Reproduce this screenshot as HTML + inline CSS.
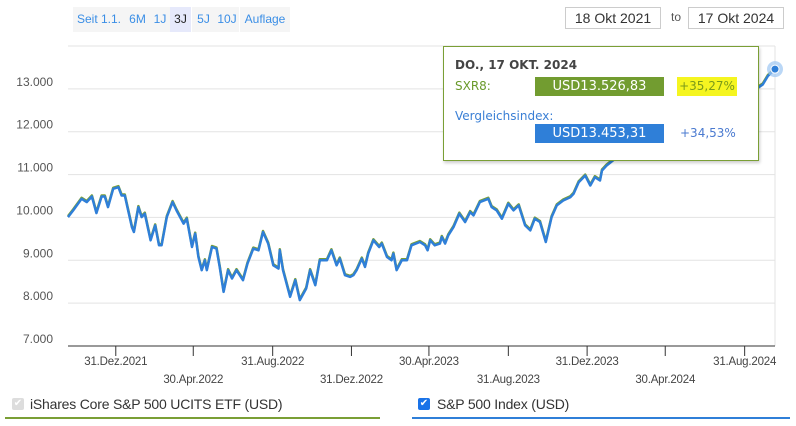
<!DOCTYPE html>
<html><head><meta charset="utf-8"><style>
body{margin:0;width:796px;height:426px;overflow:hidden;background:#fff;font-family:"Liberation Sans",sans-serif;position:relative}
.rb{position:absolute;top:7px;height:25px;line-height:25px;background:#f5f5f5;color:#3a8ee6;font-size:12px;text-align:center}
.rb.act{background:#e6e9fb;color:#222}
.date{position:absolute;top:7px;height:20px;border:1px solid #ccc;font-size:14px;line-height:20px;text-align:center;color:#333}
.tt{font-family:"DejaVu Sans","Liberation Sans",sans-serif}
</style></head><body>
<div class="rb" style="left:73px;width:52px">Seit 1.1.</div>
<div class="rb" style="left:125px;width:25px">6M</div>
<div class="rb" style="left:150px;width:20px">1J</div>
<div class="rb act" style="left:170px;width:21px">3J</div>
<div class="rb" style="left:192px;width:23px">5J</div>
<div class="rb" style="left:215px;width:24px">10J</div>
<div class="rb" style="left:240px;width:50px">Auflage</div>
<div class="date" style="left:565px;width:94px">18 Okt 2021</div>
<div style="position:absolute;left:671px;top:10px;font-size:12px;color:#555">to</div>
<div class="date" style="left:688px;width:94px">17 Okt 2024</div>

<svg id="chart" width="796" height="426" style="position:absolute;left:0;top:0"></svg>

<div class="tt" style="position:absolute;left:443px;top:46px;width:314px;height:113px;background:#fff;border:1px solid #7a9f35;box-shadow:1px 2px 3px rgba(0,0,0,.2);font-size:12px">
 <div style="position:absolute;left:11px;top:11px;font-weight:bold;color:#444">DO., 17 OKT. 2024</div>
 <div style="position:absolute;left:11px;top:32px;color:#6a9a2a">SXR8:</div>
 <div style="position:absolute;left:91px;top:30px;width:129px;height:19px;background:#729c30;color:#fff;font-size:13px;line-height:19px;text-align:center">USD13.526,83</div>
 <div style="position:absolute;left:233px;top:30px;width:60px;height:19px;background:#f5f520;color:#7a9a1a;font-size:12px;line-height:19px;text-align:center">+35,27%</div>
 <div style="position:absolute;left:11px;top:62px;color:#3a7fd5">Vergleichsindex:</div>
 <div style="position:absolute;left:91px;top:77px;width:129px;height:19px;background:#2f7fd8;color:#fff;font-size:13px;line-height:19px;text-align:center">USD13.453,31</div>
 <div style="position:absolute;left:236px;top:77px;color:#4a7ad0;line-height:19px">+34,53%</div>
</div>

<div style="position:absolute;left:12px;top:398px;width:12px;height:12px;background:#ddd;border-radius:2px;color:#fff;font-size:10px;line-height:12px;text-align:center">✔</div>
<div style="position:absolute;left:30px;top:396px;font-size:14px;color:#333;letter-spacing:-0.2px">iShares Core S&amp;P 500 UCITS ETF (USD)</div>
<div style="position:absolute;left:5px;top:417px;width:375px;height:2px;background:#7a9f35"></div>
<div style="position:absolute;left:418px;top:398px;width:12px;height:12px;background:#1a73e8;border-radius:2px;color:#fff;font-size:10px;line-height:12px;text-align:center">✔</div>
<div style="position:absolute;left:437px;top:396px;font-size:14px;color:#333;letter-spacing:-0.2px">S&amp;P 500 Index (USD)</div>
<div style="position:absolute;left:412px;top:417px;width:378px;height:2px;background:#2f7fd8"></div>

<script>
const days=[0,8,21,29,37,44,52,57,62,70,78,83,88,99,102,109,114,119,128,135,141,145,153,162,168,179,184,192,197,202,207,212,215,223,230,235,241,248,254,261,271,278,287,295,302,310,318,326,328,333,344,352,359,369,375,383,390,401,408,416,421,429,437,442,447,455,460,465,473,482,486,494,501,504,509,517,525,532,545,553,557,561,568,576,579,584,589,597,606,615,623,628,638,651,656,664,672,682,690,698,708,716,723,731,740,749,757,767,778,783,791,801,809,816,824,827,834,850,865,880,895,914,930,956,975,1002,1022,1035,1048,1054,1066,1076,1084,1095];
const values=[10008,10163,10435,10357,10489,10101,10489,10489,10240,10668,10706,10512,10512,9775,9659,10240,10008,10086,9466,9814,9349,9349,10008,10357,10163,9854,9970,9310,9621,9077,8768,9000,8768,9310,9272,8845,8263,8768,8574,8768,8535,8923,9272,9233,9659,9389,8884,8807,9233,8768,8147,8535,8070,8342,8768,8419,9000,9000,9233,8884,9039,8651,8612,8651,8768,9039,8845,9156,9466,9310,9389,9077,9000,9156,8768,9000,9000,9349,9426,9349,9233,9466,9349,9389,9543,9389,9582,9775,10086,9891,10124,10047,10357,10435,10240,10163,9970,10319,10163,10280,9814,9698,9970,9891,9426,10008,10280,10396,10473,10551,10822,10977,10745,10938,10861,11094,11210,11400,11600,11800,11950,11350,11700,12050,12400,12950,11900,12500,12950,12400,13000,13100,13300,13460];
const yTicks=[7000,8000,9000,10000,11000,12000,13000,14000];
const yTickLabels=["7.000","8.000","9.000","10.000","11.000","12.000","13.000",""];
const xTickDays=[74,194,317,439,559,682,804,925,1048];
const xTickLabels=["31.Dez.2021","30.Apr.2022","31.Aug.2022","31.Dez.2022","30.Apr.2023","31.Aug.2023","31.Dez.2023","30.Apr.2024","31.Aug.2024"];

const NS="http://www.w3.org/2000/svg";
const svg=document.getElementById('chart');
const X0=68,X1=775,Y0=346,YT=46;
const xs=d=>X0+d*(X1-X0)/1095;
const ys=v=>Y0-(v-7000)*(Y0-YT)/7000;
function mk(t,a){const e=document.createElementNS(NS,t);for(const k in a)e.setAttribute(k,a[k]);svg.appendChild(e);return e;}
yTicks.forEach((v,i)=>{
  const g=mk('line',{x1:X0,x2:X1,y1:ys(v),y2:ys(v),stroke:'#e3e3e3','stroke-width':1});
  
  
  if(yTickLabels[i]){const t=mk('text',{x:53,y:ys(v)-3,'text-anchor':'end','font-size':12,fill:'#555','font-family':'Liberation Sans'});t.textContent=yTickLabels[i];
  
  }
});
const vb=mk('line',{x1:X1,x2:X1,y1:YT,y2:Y0,stroke:'#e3e3e3'});


const ax=mk('line',{x1:X0,x2:X1,y1:Y0,y2:Y0,stroke:'#333','stroke-width':1});


xTickDays.forEach((d,i)=>{
  const tk=mk('line',{x1:xs(d),x2:xs(d),y1:Y0,y2:Y0+10,stroke:'#333'});
  
  
  const t=mk('text',{x:xs(d),y:i%2?383:365,'text-anchor':'middle','font-size':11.5,fill:'#444','font-family':'Liberation Sans','letter-spacing':'-0.2'});
  t.textContent=xTickLabels[i];
  
  
});
const pts=days.map((d,i)=>xs(d).toFixed(1)+','+ys(values[i]).toFixed(1)).join(' ');
const g1=mk('polyline',{points:pts,fill:'none',stroke:'#7a9f35','stroke-width':2.5,transform:'translate(0,-1)','stroke-linejoin':'round'});


const b1=mk('polyline',{points:pts,fill:'none',stroke:'#2f7fd8','stroke-width':2.5,'stroke-linejoin':'round'});


const lx=xs(days[days.length-1]),ly=ys(values[values.length-1]);
const halo=mk('circle',{cx:lx,cy:ly,r:8,fill:'#9cc6f2',opacity:0.7});


const dot=mk('circle',{cx:lx,cy:ly,r:4,fill:'#2f7fd8',stroke:'#fff','stroke-width':1});


</script>
</body></html>
